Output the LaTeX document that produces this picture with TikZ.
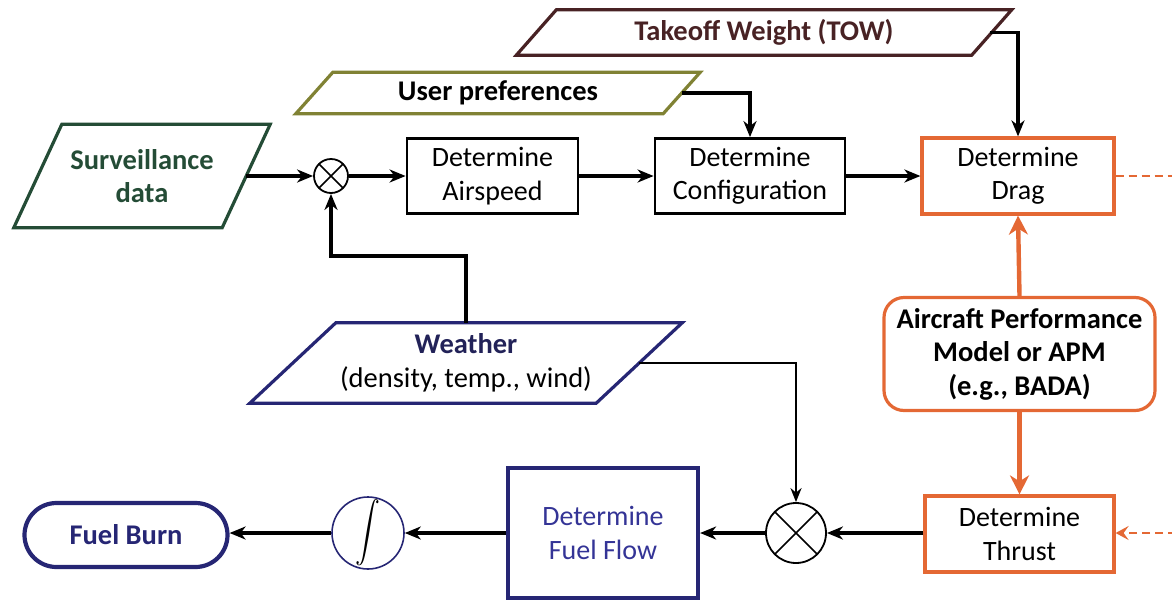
\documentclass[tikz,border=0pt]{standalone}
\usepackage{amsmath}
\usepackage{fontspec}
\setmainfont{Carlito}
\usetikzlibrary{calc,arrows.meta}
\definecolor{survgreen}{RGB}{36,76,54}
\definecolor{prefolive}{RGB}{128,130,52}
\definecolor{towmaroon}{RGB}{72,34,36}
\definecolor{apmorange}{RGB}{228,104,52}
\definecolor{navy}{RGB}{38,38,116}
\definecolor{flowblue}{RGB}{52,52,150}
\definecolor{weathernavy}{RGB}{34,34,88}

% parallelogram drawn around a rectangular node: name, half slant, draw options
\newcommand\paral[3]{%
  \coordinate (#1-nw) at ($(#1.north west)+(#2,0)$);
  \coordinate (#1-ne) at ($(#1.north east)+(#2,0)$);
  \coordinate (#1-se) at ($(#1.south east)-(#2,0)$);
  \coordinate (#1-sw) at ($(#1.south west)-(#2,0)$);
  \coordinate (#1-e) at ($(#1-ne)!0.5!(#1-se)$);
  \draw[#3] (#1-nw) -- (#1-ne) -- (#1-se) -- (#1-sw) -- cycle;
}

\begin{document}
\begin{tikzpicture}[x=1pt,y=-1pt,
  txt/.style={font=\fontsize{28}{33.5}\selectfont, align=center, inner sep=0pt},
  btxt/.style={font=\fontsize{28.5}{33.5}\selectfont\bfseries, align=center, inner sep=0pt},
  paranode/.style={btxt, minimum height=#1},
  procbox/.style={txt, draw, line width=2.8pt, minimum width=171pt, minimum height=75pt},
  orangebox/.style={txt, draw=apmorange, line width=3.2pt, minimum height=76pt},
  mult/.style={circle, draw, line width=1.8pt, minimum size=#1, inner sep=0pt, path picture={
      \draw[line width=1.6pt] (path picture bounding box.north west) -- (path picture bounding box.south east)
        (path picture bounding box.north east) -- (path picture bounding box.south west);}},
  arr/.style={line width=3.8pt, -{Stealth[length=16pt,width=13pt,inset=5pt]}},
  thinarr/.style={line width=2.2pt, -{Stealth[length=14pt,width=11pt,inset=4.5pt]}},
  orarr/.style={draw=apmorange, line width=4.4pt, -{Stealth[length=19pt,width=19pt,inset=6pt]}},
  orangedash/.style={draw=apmorange, line width=2.8pt, dash pattern=on 8pt off 5pt},
]
\useasboundingbox (0,0) rectangle (1172,600);

% input data (parallelograms)
\node[paranode=103pt, minimum width=208pt, text=survgreen] (surv) at (142,176) {Surveillance\\data};
\paral{surv}{24}{survgreen, line width=3.2pt}

\node[paranode=41pt, minimum width=367pt, text=black] (pref) at (498,93) {User preferences};
\paral{pref}{18.5}{prefolive, line width=3.2pt}

\node[paranode=45pt, minimum width=455pt, text=towmaroon] (tow) at (764,32.5) {Takeoff Weight (TOW)};
\paral{tow}{20}{towmaroon, line width=3.2pt}

\node[paranode=80pt, minimum width=346pt, text=weathernavy] (wx) at (466,363)
  {Weather\\[0pt]{\mdseries\color{black}(density, temp., wind)}};
\paral{wx}{43}{navy, line width=3.2pt}

% processing blocks
\node[mult=34pt] (m1) at (331,176) {};
\node[procbox] (air) at (492.5,176) {Determine\\Airspeed};
\node[procbox, minimum width=190pt] (conf) at (750,176) {Determine\\Configuration};
\node[orangebox, minimum width=192pt] (drag) at (1018,176) {Determine\\Drag};
\node[btxt, draw=apmorange, line width=3.2pt, rounded corners=20pt,
      minimum width=271pt, minimum height=113pt] (apm) at (1019.5,354)
  {Aircraft Performance\\Model or APM\\(e.g., BADA)};
\node[orangebox, minimum width=189pt] (thr) at (1019.5,534) {Determine\\Thrust};
\node[mult=60pt] (m2) at (796,533) {};
\node[txt, text=flowblue, draw=navy, line width=4.2pt, minimum width=190pt, minimum height=130pt]
  (flow) at (603,533) {Determine\\Fuel Flow};
\node[circle, draw=navy, line width=1.6pt, minimum size=72pt, inner sep=0pt,
      font=\fontsize{28}{33}\selectfont] (int) at (368,533) {\scalebox{1.0}[1.2]{$\displaystyle\int$}};
\node[btxt, text=navy, draw=navy, line width=4.2pt, rounded corners=32pt,
      minimum width=203pt, minimum height=64pt] (burn) at (126,535) {Fuel Burn};

% connectors
\draw[arr] (surv-e) -- (m1);
\draw[arr] (m1) -- (air);
\draw[arr] (air) -- (conf);
\draw[arr] (conf) -- (drag);
\draw[arr] (pref-e) -| (conf.north);
\draw[arr] ($(tow-e)+(-2,0)$) -| (drag.north);
\draw[arr] (wx.center |- wx-nw) -- ++(0,-67) -| (m1.south);
\draw[thinarr] (wx-e) -| (m2.north);
\draw[orarr] (apm.north) -- (drag.south);
\draw[orarr] (apm.south) -- (thr.north);
\draw[arr] (thr.west |- m2) -- (m2.east);
\draw[arr] (m2.west) -- (flow.east |- m2);
\draw[arr] (flow.west |- int) -- (int.east);
\draw[arr] (int.west) -- (burn.east |- int);

% links leaving the frame
\coordinate (dragout) at (1176,176);
\coordinate (thrin) at (1176,533);
\draw[orangedash] (drag.east) -- (dragout);
\draw[orangedash, -{Stealth[length=13pt,width=14pt,inset=5pt]}] (thrin) -- (thr.east |- thrin);
\end{tikzpicture}
\end{document}
